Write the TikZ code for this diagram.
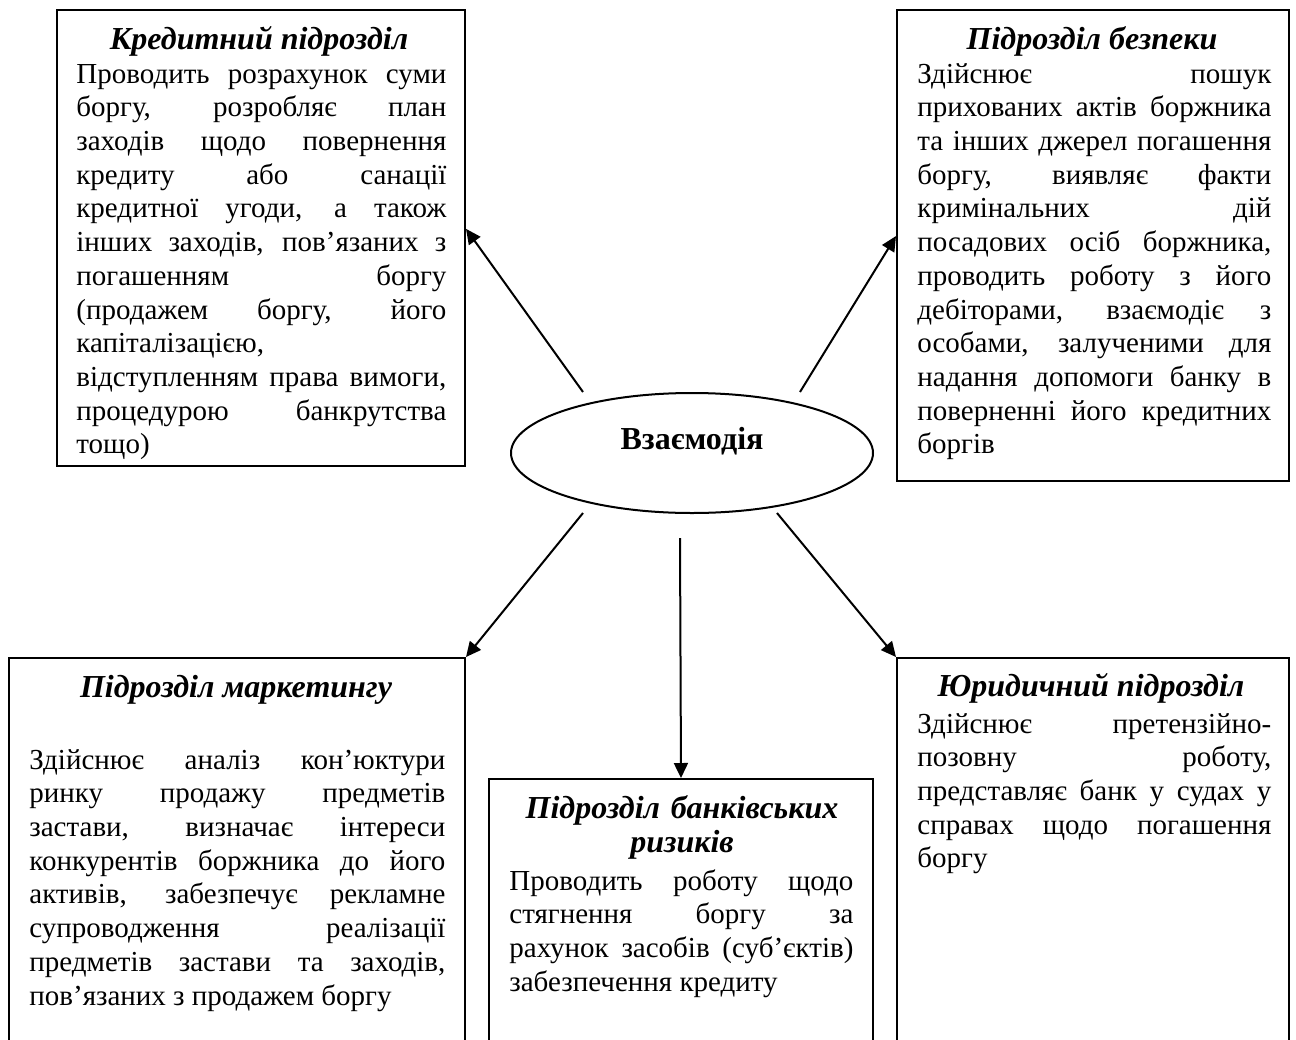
\documentclass[tikz,border=0pt]{standalone}
\usepackage{fontspec}
\setmainfont{Liberation Serif}
\usetikzlibrary{arrows.meta,shapes.geometric,calc}
\newlength\bxw
\newcommand\jl[1]{\hbox to \bxw{#1}}
\newcommand\lft[1]{\hbox to \bxw{#1\hfil}}
\newcommand\bodyblock[2]{\setlength{\bxw}{#1}\vtop{#2}}
\begin{document}
\begin{tikzpicture}[x=0.5pt,y=-0.5pt,
  box/.style={draw, line width=1pt, rectangle, inner sep=0pt, anchor=north west},
  ttl/.style={font=\fontsize{16}{17.2}\selectfont\bfseries\itshape, inner sep=0pt, anchor=base},
  bodytxt/.style={font=\fontsize{14.5}{16.86}\selectfont, inner sep=0pt, anchor=base west},
  arr/.style={line width=1pt, -{Triangle[length=7.5pt,width=7pt]}}]
\useasboundingbox (0,0) rectangle (1296,1039);
\clip (0,0) rectangle (1296,1039);
\fill[white] (0,0) rectangle (1296,1039);

% boxes
\node[box, minimum width=204pt, minimum height=228pt] (b1) at (56,9) {};
\node[box, minimum width=196pt, minimum height=235.5pt] (b2) at (896,9) {};
\node[box, minimum width=228pt, minimum height=201.5pt] (b3) at (8,657) {};
\node[box, minimum width=192pt, minimum height=141pt] (b4) at (488,778) {};
\node[box, minimum width=196pt, minimum height=201.5pt] (b5) at (896,657) {};

% centre
\node[draw, ellipse, line width=1pt, minimum width=181pt, minimum height=60pt, inner sep=0pt] (inter) at (692,453) {};
\node[font=\fontsize{16}{18}\selectfont\bfseries, inner sep=0pt, anchor=base] (lbl) at (692,449) {Взаємодія};

% arrows
\coordinate (s1) at (583,392);
\coordinate (s2) at (800,392);
\coordinate (s3) at (583,513);
\coordinate (s4) at (680,538);
\coordinate (s5) at (777,513);
\draw[arr] (s1) -- ($(b1.north east)!0.48!(b1.south east)$);
\draw[arr] (s2) -- ($(b2.north west)!0.48!(b2.south west)$);
\draw[arr] (s3) -- (b3.north east);
\draw[arr] (s4) -- (b4.north);
\draw[arr] (s5) -- (b5.north west);

% texts
\node[ttl] (t1) at (259,49) {Кредитний підрозділ};
\node[bodytxt] (d1) at (76,83) {\bodyblock{185pt}{%
\jl{Проводить розрахунок суми}
\jl{боргу, розробляє план}
\jl{заходів щодо повернення}
\jl{кредиту або санації}
\jl{кредитної угоди, а також}
\jl{інших заходів, пов’язаних з}
\jl{погашенням боргу}
\jl{(продажем боргу, його}
\lft{капіталізацією,}
\jl{відступленням права вимоги,}
\jl{процедурою банкрутства}
\lft{тощо)}}};

\node[ttl] (t2) at (1092,49) {Підрозділ безпеки};
\node[bodytxt] (d2) at (917,83) {\bodyblock{177pt}{%
\jl{Здійснює пошук}
\jl{прихованих актів боржника}
\jl{та інших джерел погашення}
\jl{боргу, виявляє факти}
\jl{кримінальних дій}
\jl{посадових осіб боржника,}
\jl{проводить роботу з його}
\jl{дебіторами, взаємодіє з}
\jl{особами, залученими для}
\jl{надання допомоги банку в}
\jl{поверненні його кредитних}
\lft{боргів}}};

\node[ttl] (t3) at (236,697) {Підрозділ маркетингу};
\node[bodytxt] (d3) at (29,769) {\bodyblock{208pt}{%
\jl{Здійснює аналіз кон’юктури}
\jl{ринку продажу предметів}
\jl{застави, визначає інтереси}
\jl{конкурентів боржника до його}
\jl{активів, забезпечує рекламне}
\jl{супроводження реалізації}
\jl{предметів застави та заходів,}
\lft{пов’язаних з продажем боргу}}};

\node[ttl, text width=172pt, align=center] (t4) at (682,818) {Підрозділ банківських\\ризиків};
\node[bodytxt] (d4) at (509,890) {\bodyblock{172pt}{%
\jl{Проводить роботу щодо}
\jl{стягнення боргу за}
\jl{рахунок засобів (суб’єктів)}
\lft{забезпечення кредиту}}};

\node[ttl] (t5) at (1091,696) {Юридичний підрозділ};
\node[bodytxt] (d5) at (917,733) {\bodyblock{177pt}{%
\jl{Здійснює претензійно-}
\jl{позовну роботу,}
\jl{представляє банк у судах у}
\jl{справах щодо погашення}
\lft{боргу}}};
\end{tikzpicture}
\end{document}
